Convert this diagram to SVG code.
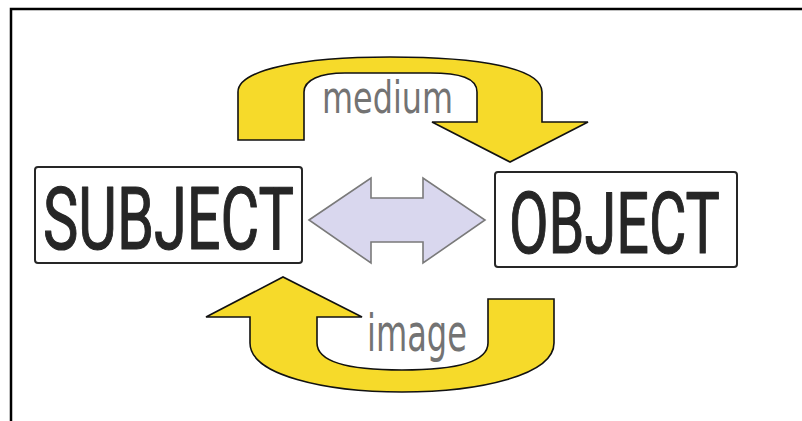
<svg xmlns="http://www.w3.org/2000/svg" width="802" height="421" viewBox="0 0 802 421">
<style>
.box{fill:#fff;stroke:#262626;stroke-width:2}
.big{font-family:Roboto,"Liberation Sans",sans-serif;font-weight:normal;fill:#262626;stroke:#262626;stroke-width:1.2;stroke-linejoin:round}
.lbl{font-family:"DejaVu Sans Condensed","DejaVu Sans",sans-serif;fill:#737373}
.yel{fill:#f6da2a;stroke:#111;stroke-width:1.6;stroke-linejoin:miter}
.dbl{fill:#d9d7ee;stroke:#7a7a7a;stroke-width:1.6}
</style>
<rect x="0" y="0" width="802" height="421" fill="#fff"/>
<rect x="11" y="9" width="800" height="420" fill="none" stroke="#000" stroke-width="2.5"/>
<g id="connectors">
<path id="medium-arrow" class="yel" d="M238,140 V92 C238,70 300,57 390,57 C480,57 542,68 542,92 V122 L588,122 L510,162 L432,122 L477,122 V92 C477,78 460,73 430,73 L345,73 C320,73 304,80 304,92 V140 Z"/>
<path id="image-arrow" class="yel" d="M206,317 L283,277 L362,317 L317,317 V343 C317,362 350,370 402,370 C455,370 488,362 488,343 V299 L554,299 V343 C554,375 480,392 402,392 C325,392 250,375 250,343 V317 Z"/>
<path id="double-arrow" class="dbl" d="M309,220 L371,178 V198 H423 V178 L485,220 L423,263 V242 H371 V263 Z"/>
<text class="lbl" x="322" y="113" font-size="44" textLength="131" lengthAdjust="spacingAndGlyphs">medium</text>
<text class="lbl" x="367" y="351" font-size="51" textLength="100" lengthAdjust="spacingAndGlyphs">image</text>
</g>
<g id="subject">
<rect class="box" x="35" y="167" width="267" height="96" rx="3"/>
<text class="big" transform="translate(43,249) scale(0.7,1)" x="0" y="0" font-size="88" textLength="358.6" lengthAdjust="spacingAndGlyphs">SUBJECT</text>
</g>
<g id="object">
<rect class="box" x="495" y="172" width="242" height="95" rx="3"/>
<text class="big" transform="translate(509,253) scale(0.7,1)" x="0" y="0" font-size="86" textLength="301.4" lengthAdjust="spacingAndGlyphs">OBJECT</text>
</g>
</svg>
